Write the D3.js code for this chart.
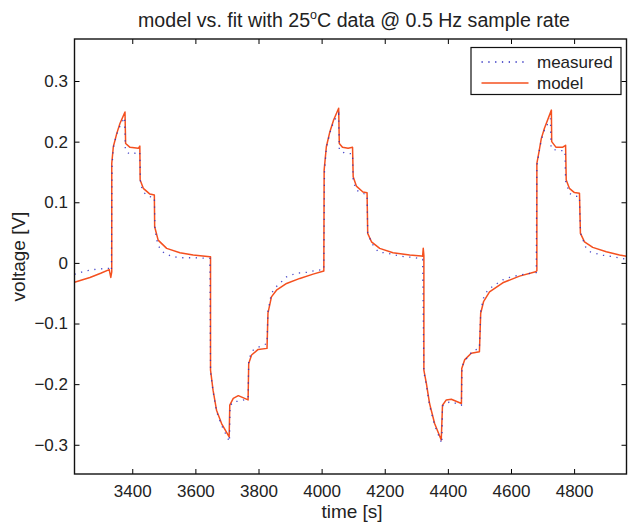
<!DOCTYPE html>
<html>
<head>
<meta charset="utf-8">
<script src="https://cdn.jsdelivr.net/npm/d3@7"></script>
<style>
  html, body { margin: 0; padding: 0; background: #fff; }
  svg { display: block; font-family: "Liberation Sans", Arial, Helvetica, sans-serif; }
</style>
</head>
<body>
<svg id="chart" width="629" height="524"></svg>
<script>
// ---- data ----
const xTicks = [3400, 3600, 3800, 4000, 4200, 4400, 4600, 4800];
const yTicks = [-0.3, -0.2, -0.1, 0, 0.1, 0.2, 0.3];
const seriesNames = ["measured", "model"];

// model: [time s, voltage V]
const modelData = [
  [3217,-0.032],[3266,-0.024],[3300,-0.017],[3327,-0.011],[3332,-0.024],[3335,-0.015],
  [3335,0.164],[3340,0.1916],[3351,0.2136],[3361,0.230],[3377,0.249],
  [3379,0.197],[3393,0.1906],[3419,0.189],[3424,0.1927],
  [3425,0.1366],[3435,0.123],[3456,0.1135],[3470,0.112],
  [3471,0.0596],[3482,0.0376],[3509,0.0239],[3551,0.0167],[3593,0.0129],[3646,0.0101],
  [3648,0.010],[3648,-0.177],[3656,-0.21],[3667,-0.243],[3683,-0.265],[3707,-0.287],
  [3709,-0.2347],[3720,-0.2236],[3736,-0.219],[3767,-0.226],
  [3769,-0.166],[3778,-0.152],[3799,-0.1427],[3827,-0.141],
  [3830,-0.083],[3841,-0.056],[3857,-0.045],[3889,-0.0339],[3931,-0.0256],[3973,-0.0185],[4007,-0.0135],
  [4008,0.153],[4015,0.1916],[4026,0.216],[4038,0.2356],[4054,0.255],
  [4056,0.197],[4066,0.1906],[4084,0.189],[4098,0.1906],
  [4100,0.142],[4110,0.1267],[4131,0.117],[4144,0.1157],
  [4146,0.0487],[4158,0.0348],[4184,0.0239],[4226,0.0167],[4279,0.0129],[4316,0.0112],
  [4320,0.011],[4322,0.024],[4324,0.012],
  [4324,-0.177],[4332,-0.199],[4342,-0.232],[4358,-0.265],[4379,-0.292],
  [4383,-0.2347],[4395,-0.226],[4411,-0.225],[4443,-0.232],
  [4444,-0.174],[4453,-0.160],[4474,-0.149],[4500,-0.1467],
  [4504,-0.083],[4513,-0.064],[4532,-0.0477],[4574,-0.0328],[4627,-0.0218],[4678,-0.0147],
  [4682,-0.013],[4682,0.164],[4688,0.181],[4696,0.205],[4706,0.222],[4728,0.252],
  [4729,0.200],[4743,0.1906],[4763,0.1906],[4773,0.194],
  [4775,0.1366],[4785,0.123],[4801,0.116],[4817,0.1147],
  [4820,0.0487],[4833,0.0348],[4859,0.0256],[4902,0.0183],[4944,0.0129],[4966,0.011]
];

// measured: [time s, voltage V]
const measuredData = [
  [3217,-0.019],[3228,-0.017],[3255,-0.013],[3290,-0.010],[3330,-0.009],[3334,-0.013],
  [3336,0.160],[3340,0.190],[3350,0.211],[3362,0.227],[3376,0.240],
  [3378,0.186],[3390,0.180],[3410,0.181],[3424,0.183],
  [3426,0.130],[3435,0.117],[3450,0.110],[3470,0.108],
  [3472,0.055],[3480,0.032],[3490,0.021],[3506,0.0145],[3532,0.010],[3560,0.0085],[3600,0.0085],[3646,0.0074],
  [3648,-0.180],[3656,-0.212],[3667,-0.245],[3683,-0.268],[3708,-0.295],
  [3710,-0.236],[3720,-0.229],[3740,-0.228],[3767,-0.224],
  [3769,-0.160],[3780,-0.145],[3800,-0.139],[3827,-0.133],
  [3830,-0.080],[3841,-0.050],[3857,-0.039],[3889,-0.023],[3920,-0.017],[3951,-0.0157],[3988,-0.012],[4007,-0.011],
  [4009,0.150],[4015,0.190],[4026,0.214],[4038,0.233],[4054,0.246],
  [4056,0.186],[4073,0.181],[4098,0.180],
  [4100,0.135],[4110,0.120],[4131,0.1147],[4144,0.112],
  [4146,0.050],[4159,0.032],[4180,0.018],[4212,0.0157],[4250,0.011],[4290,0.009],[4320,0.006],
  [4324,-0.180],[4332,-0.202],[4342,-0.235],[4358,-0.268],[4381,-0.298],
  [4383,-0.236],[4395,-0.231],[4411,-0.229],[4443,-0.2347],
  [4445,-0.170],[4463,-0.155],[4479,-0.145],[4500,-0.141],
  [4504,-0.080],[4513,-0.058],[4526,-0.045],[4548,-0.0366],[4574,-0.028],[4595,-0.024],[4627,-0.020],[4664,-0.017],[4680,-0.016],
  [4682,0.160],[4688,0.180],[4696,0.203],[4706,0.219],[4725,0.238],
  [4727,0.189],[4745,0.1856],[4771,0.185],
  [4773,0.135],[4785,0.1147],[4801,0.110],[4817,0.1097],
  [4820,0.050],[4836,0.0266],[4852,0.018],[4887,0.0129],[4925,0.010],[4966,0.006]
];

// ---- layout ----
const W = 629, H = 524;
const M = { left: 74.5, right: 2.5, top: 39, bottom: 50 };
const svg = d3.select("#chart");

const x = d3.scaleLinear().domain([3217, 4966]).range([M.left, W - M.right]);
const y = d3.scaleLinear().domain([-0.3482, 0.3693]).range([H - M.bottom, M.top]);

const red = "#f4501f";
const blue = "#2b2bbf";

// clip
svg.append("clipPath").attr("id", "clip").append("rect")
  .attr("x", M.left).attr("y", M.top)
  .attr("width", W - M.left - M.right).attr("height", H - M.top - M.bottom);

const line = d3.line().x(d => x(d[0])).y(d => y(d[1]));

const g = svg.append("g").attr("clip-path", "url(#clip)");
g.append("path").datum(modelData)
  .attr("d", line).attr("fill", "none")
  .attr("stroke", red).attr("stroke-width", 1.5).attr("stroke-linejoin", "round");
g.append("path").datum(measuredData)
  .attr("d", line).attr("fill", "none")
  .attr("stroke", blue).attr("stroke-width", 1.3).attr("stroke-dasharray", "1.3,5.5")
  .attr("opacity", 0.85);

// axes (ticks inward, boxed)
const fmtY = d => d === 0 ? "0" : d3.format(".1f")(d).replace("-", "\u2212");
const tickFont = "17px";

const xAxisB = d3.axisBottom(x).tickValues(xTicks).tickSize(-5).tickPadding(11).tickFormat(d3.format("d"));
const xAxisT = d3.axisTop(x).tickValues(xTicks).tickSize(-5).tickFormat("");
const yAxisL = d3.axisLeft(y).tickValues(yTicks).tickSize(-5).tickPadding(6.5).tickFormat(fmtY);
const yAxisR = d3.axisRight(y).tickValues(yTicks).tickSize(-5).tickFormat("");

function style(sel) {
  sel.select(".domain").remove();
  sel.selectAll(".tick line").attr("stroke", "#000").attr("stroke-width", 1);
  sel.selectAll(".tick text").attr("fill", "#222").style("font-size", tickFont)
     .style("font-family", "'Liberation Sans', Arial, sans-serif");
}
svg.append("g").attr("transform", `translate(0,${H - M.bottom})`).call(xAxisB).call(style);
svg.append("g").attr("transform", `translate(0,${M.top})`).call(xAxisT).call(style);
svg.append("g").attr("transform", `translate(${M.left},0)`).call(yAxisL).call(style);
svg.append("g").attr("transform", `translate(${W - M.right},0)`).call(yAxisR).call(style);

// frame
svg.append("rect")
  .attr("x", M.left).attr("y", M.top)
  .attr("width", W - M.left - M.right).attr("height", H - M.top - M.bottom)
  .attr("fill", "none").attr("stroke", "#111").attr("stroke-width", 1.4);

// title
const title = svg.append("text")
  .attr("x", 354).attr("y", 27)
  .attr("text-anchor", "middle").attr("fill", "#222")
  .style("font-size", "19.6px");
title.append("tspan").text("model vs. fit with 25");
title.append("tspan").attr("dy", -8).style("font-size", "12.5px").text("o");
title.append("tspan").attr("dy", 8).text("C data @ 0.5 Hz sample rate");

// axis labels
svg.append("text")
  .attr("x", 352).attr("y", 518)
  .attr("text-anchor", "middle").attr("fill", "#222")
  .style("font-size", "19px").text("time [s]");
svg.append("text")
  .attr("transform", `translate(25,${(M.top + H - M.bottom) / 2}) rotate(-90)`)
  .attr("text-anchor", "middle").attr("fill", "#222")
  .style("font-size", "19px").text("voltage [V]");

// legend
const lg = svg.append("g");
const lx = 471, ly = 47.5, lw = 150, lh = 47;
lg.append("rect").attr("x", lx).attr("y", ly).attr("width", lw).attr("height", lh)
  .attr("fill", "#fff").attr("stroke", "#111").attr("stroke-width", 1.2);
const rows = [
  { name: seriesNames[0], color: blue, dash: "1.3,5.5", w: 1.3, cy: 62 },
  { name: seriesNames[1], color: red, dash: null, w: 1.5, cy: 83 }
];
rows.forEach(r => {
  lg.append("line").attr("x1", 481.5).attr("x2", 528.5).attr("y1", r.cy).attr("y2", r.cy)
    .attr("stroke", r.color).attr("stroke-width", r.w)
    .attr("stroke-dasharray", r.dash);
  lg.append("text").attr("x", 537).attr("y", r.cy + 6).attr("fill", "#222")
    .style("font-size", "17px").text(r.name);
});
</script>
</body>
</html>
